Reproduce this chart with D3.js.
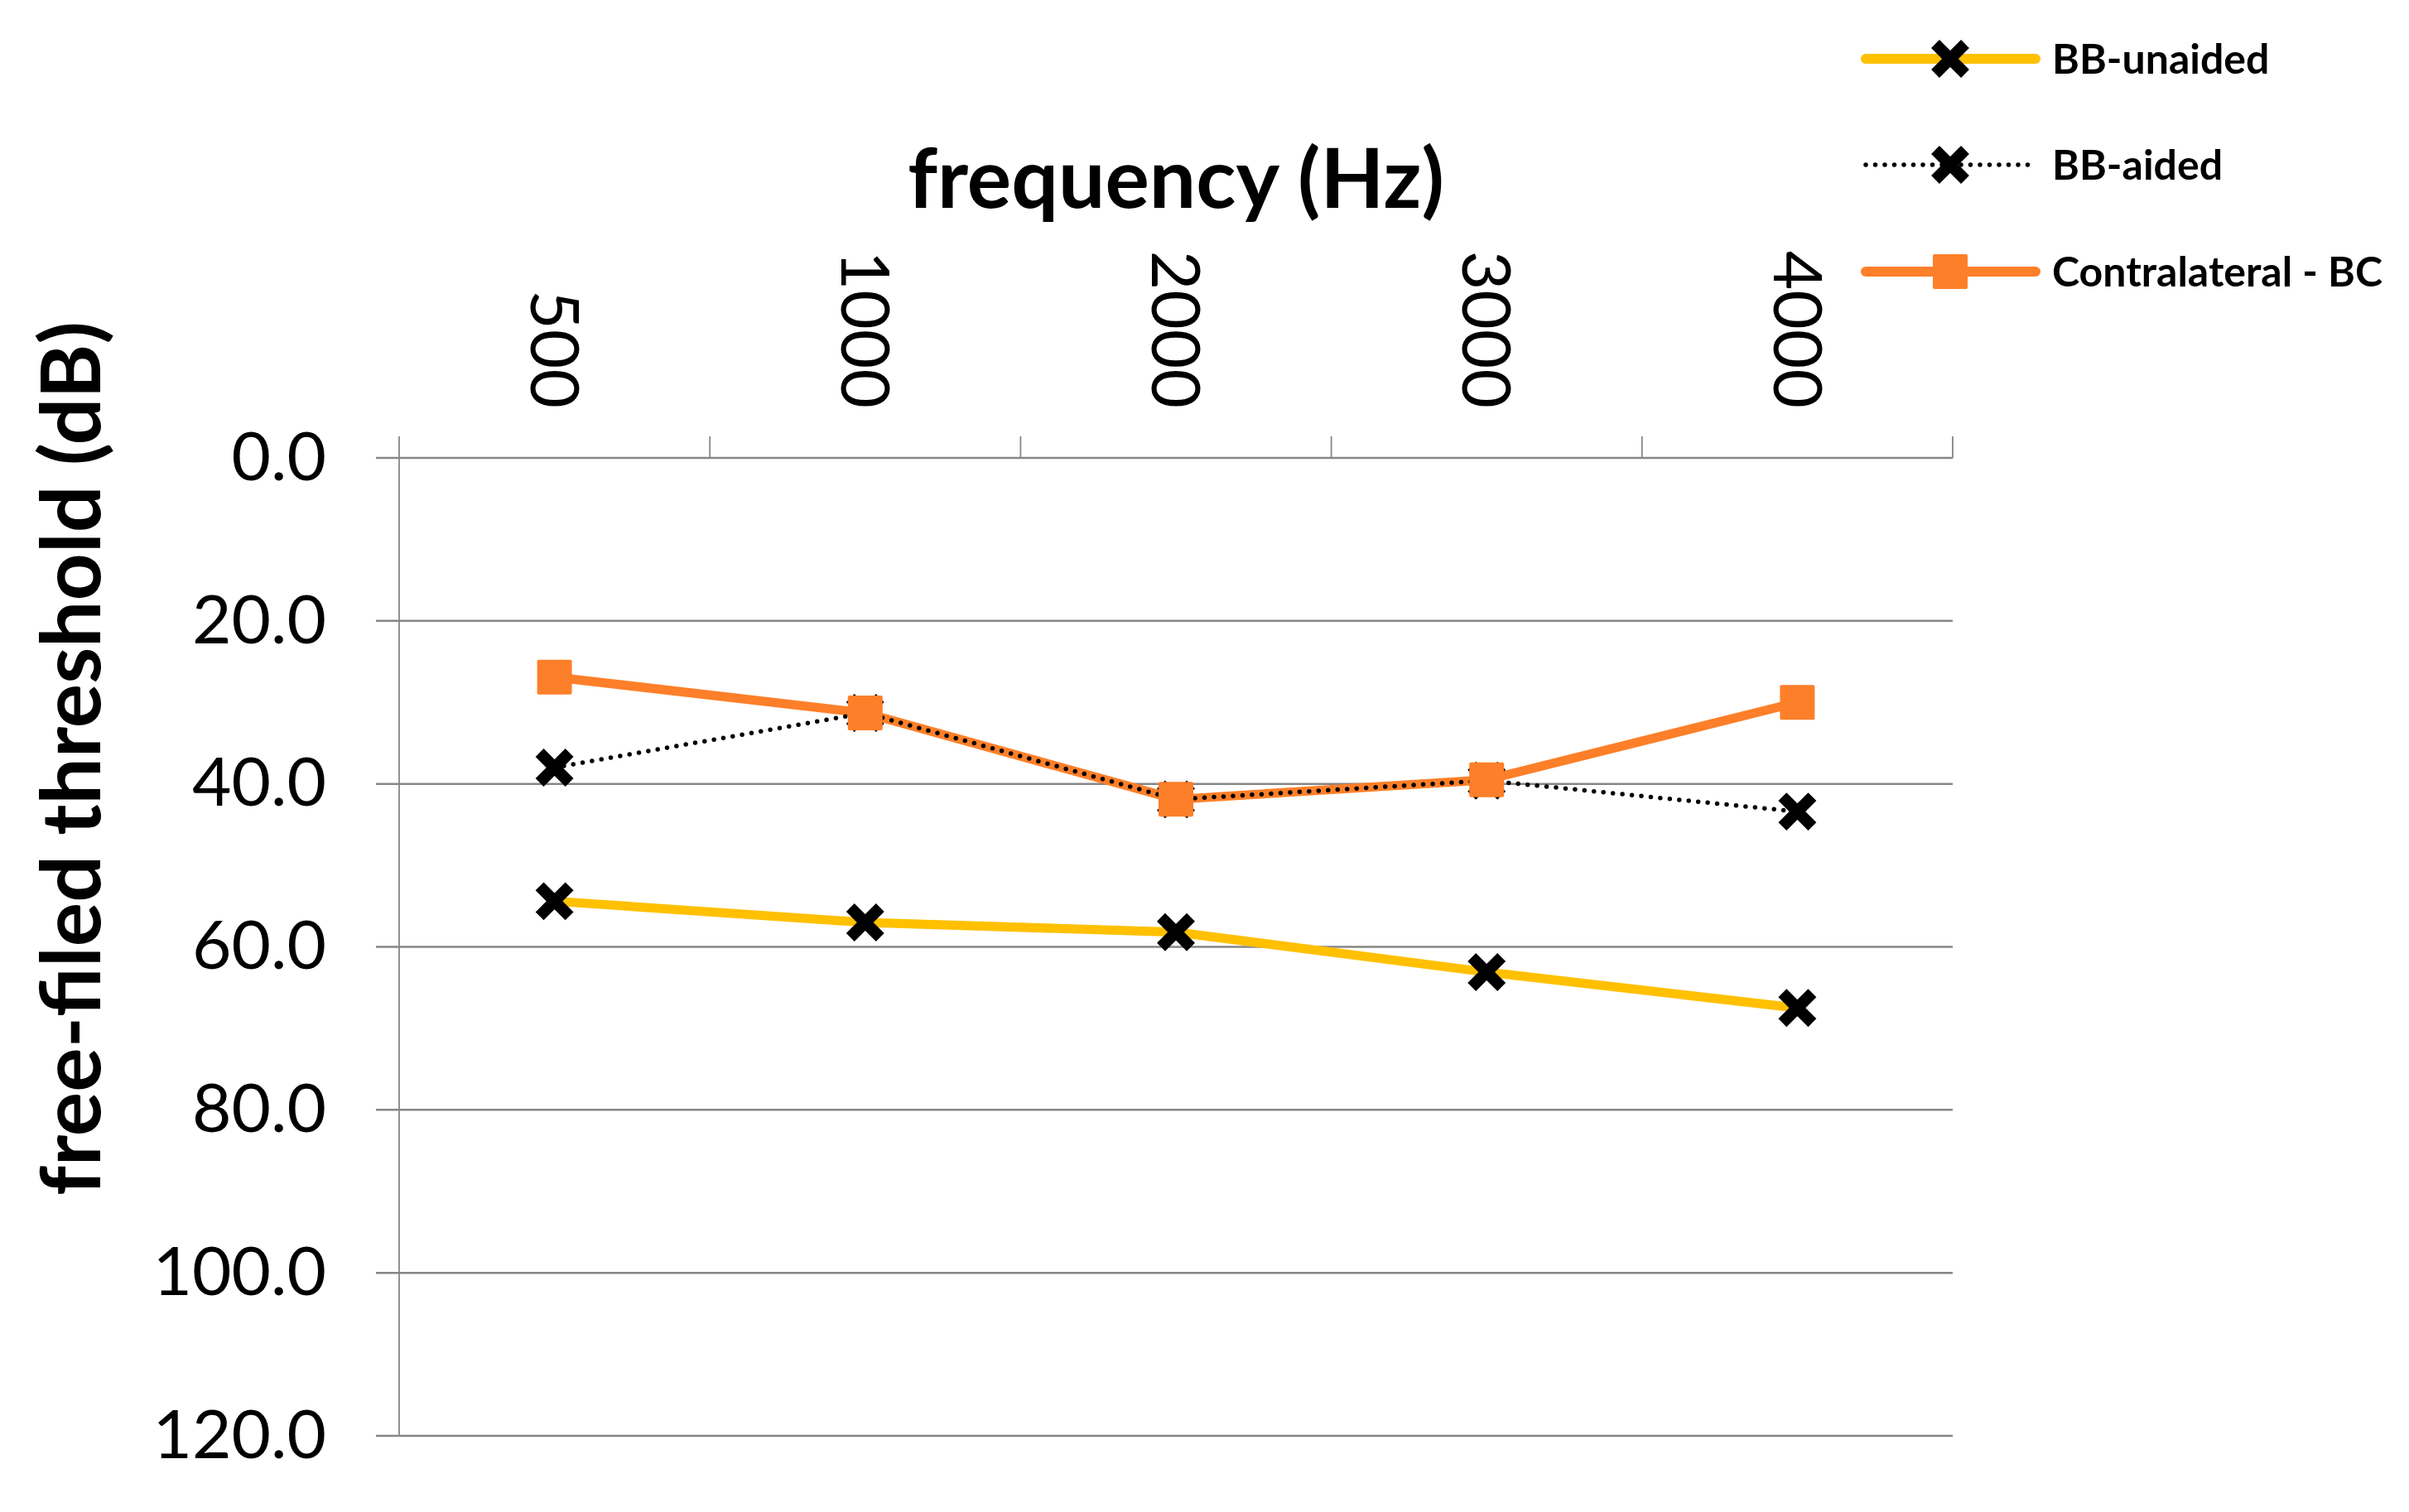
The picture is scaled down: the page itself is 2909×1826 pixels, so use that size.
<!DOCTYPE html>
<html>
<head>
<meta charset="utf-8">
<script src="https://cdn.jsdelivr.net/npm/d3@7"></script>
<style>
  html, body { margin: 0; padding: 0; background: #fff; }
  svg { display: block; }
  text { font-family: Lato, "Open Sans", sans-serif; fill: #000; }
</style>
</head>
<body>
<svg id="chart" width="2909" height="1826"></svg>
<script>
// ---- data ----
const frequencies = ["500", "1000", "2000", "3000", "4000"];
const bbUnaided = [54.4, 57.0, 58.2, 63.1, 67.5];
const bbAided = [38.0, 31.3, 41.9, 39.6, 43.4];
const contralateralBC = [26.9, 31.3, 41.9, 39.5, 30.0];
const yTicks = [0, 20, 40, 60, 80, 100, 120];
const seriesNames = ["BB-unaided", "BB-aided", "Contralateral - BC"];
const xTitle = "frequency (Hz)";
const yTitle = "free-filed threshold (dB)";

// ---- layout ----
const plot = { left: 482, right: 2358, top: 553, bottom: 1734 };
const svg = d3.select("#chart");

const x = d3.scaleBand().domain(frequencies).range([plot.left, plot.right]).paddingInner(0).paddingOuter(0);
const y = d3.scaleLinear().domain([0, 120]).range([plot.top, plot.bottom]);
const cx = d => x(d) + x.bandwidth() / 2;

const gridColor = "#868686";

// gridlines (with outside tick extension)
svg.append("g").selectAll("line").data(yTicks).join("line")
  .attr("x1", plot.left - 28).attr("x2", plot.right)
  .attr("y1", d => y(d)).attr("y2", d => y(d))
  .attr("stroke", gridColor).attr("stroke-width", 2.5);

// y axis line
svg.append("line")
  .attr("x1", plot.left).attr("x2", plot.left)
  .attr("y1", plot.top - 26).attr("y2", plot.bottom)
  .attr("stroke", gridColor).attr("stroke-width", 1.8);

// top axis tick marks at band boundaries
const bounds = frequencies.map(f => x(f)).concat([plot.right]);
svg.append("g").selectAll("line").data(bounds.slice(1)).join("line")
  .attr("x1", d => d).attr("x2", d => d)
  .attr("y1", plot.top - 26).attr("y2", plot.top)
  .attr("stroke", gridColor).attr("stroke-width", 1.8);

// y axis labels via d3 axis
const yAxis = d3.axisLeft(y).tickValues(yTicks).tickFormat(d3.format(".1f")).tickSize(0).tickPadding(0);
const gy = svg.append("g").attr("transform", `translate(${plot.left - 88},0)`).call(yAxis);
gy.select(".domain").remove();
gy.selectAll("text").attr("font-size", 82).attr("font-family", "Lato, sans-serif").attr("fill", "#000");

// x axis labels (rotated) via d3 axis
const xAxis = d3.axisTop(x).tickSize(0).tickPadding(0);
const gx = svg.append("g").attr("transform", `translate(0,${plot.top - 60})`).call(xAxis);
gx.select(".domain").remove();
gx.selectAll("text")
  .attr("font-size", 82).attr("font-family", "Lato, sans-serif").attr("fill", "#000")
  .attr("text-anchor", "end")
  .attr("transform", "rotate(90)")
  .attr("x", 0).attr("y", 0).attr("dy", "0.35em");

// titles
svg.append("text")
  .attr("x", (plot.left + plot.right) / 2).attr("y", 251)
  .attr("text-anchor", "middle").attr("font-size", 100).attr("font-weight", "bold")
  .text(xTitle);
svg.append("text")
  .attr("transform", "rotate(-90)")
  .attr("x", -916).attr("y", 121)
  .attr("text-anchor", "middle").attr("font-size", 100).attr("font-weight", "bold")
  .text(yTitle);

// marker shapes: thick X made of two butt-capped strokes
const xs = 18;
function addX(g, px, py) {
  g.append("path")
    .attr("transform", `translate(${px},${py})`)
    .attr("d", `M${-xs},${-xs}L${xs},${xs}M${xs},${-xs}L${-xs},${xs}`)
    .attr("stroke", "#000").attr("stroke-width", 14).attr("stroke-linecap", "butt").attr("fill", "none");
}
const sq = 42;

const lineGen = d3.line().x((d, i) => cx(frequencies[i])).y(d => y(d));

const yellow = "#FFC000", orange = "#FD7F29";

// BB-unaided
svg.append("path").datum(bbUnaided).attr("d", lineGen)
  .attr("fill", "none").attr("stroke", yellow).attr("stroke-width", 11).attr("stroke-linejoin", "round");
// Contralateral line
svg.append("path").datum(contralateralBC).attr("d", lineGen)
  .attr("fill", "none").attr("stroke", orange).attr("stroke-width", 11).attr("stroke-linejoin", "round");
// BB-aided dotted
svg.append("path").datum(bbAided).attr("d", lineGen)
  .attr("fill", "none").attr("stroke", "#000").attr("stroke-width", 5.5)
  .attr("stroke-linecap", "round").attr("stroke-dasharray", "0 11.5");

// BB-aided markers
const gA = svg.append("g");
bbAided.forEach((v, i) => addX(gA, cx(frequencies[i]), y(v)));
// BB-unaided markers
const gU = svg.append("g");
bbUnaided.forEach((v, i) => addX(gU, cx(frequencies[i]), y(v)));
// Contralateral markers
svg.append("g").selectAll("rect").data(contralateralBC).join("rect")
  .attr("x", (d, i) => cx(frequencies[i]) - sq / 2).attr("y", d => y(d) - sq / 2)
  .attr("width", sq).attr("height", sq).attr("rx", 2).attr("fill", orange);

// legend
const legY = [71, 199, 328];
const legX1 = 2261, legX2 = 2466, legMid = 2363, legText = 2486;
const leg = svg.append("g").attr("transform", "translate(-8,0)");
const styles = [
  { stroke: yellow, width: 12, dash: null, marker: "x" },
  { stroke: "#000", width: 5.5, dash: "0 11.5", marker: "x" },
  { stroke: orange, width: 12, dash: null, marker: "sq" }
];
seriesNames.forEach((name, i) => {
  const st = styles[i];
  const ln = leg.append("line")
    .attr("x1", legX1).attr("x2", legX2).attr("y1", legY[i]).attr("y2", legY[i])
    .attr("stroke", st.stroke).attr("stroke-width", st.width).attr("stroke-linecap", "round");
  if (st.dash) ln.attr("stroke-dasharray", st.dash);
  if (st.marker === "x") {
    addX(leg, legMid, legY[i]);
  } else {
    leg.append("rect").attr("x", legMid - sq / 2).attr("y", legY[i] - sq / 2)
      .attr("width", sq).attr("height", sq).attr("rx", 2).attr("fill", orange);
  }
  leg.append("text").attr("x", legText).attr("y", legY[i]).attr("dy", "0.35em")
    .attr("font-size", 50).attr("font-weight", "bold").text(name);
});
</script>
</body>
</html>
